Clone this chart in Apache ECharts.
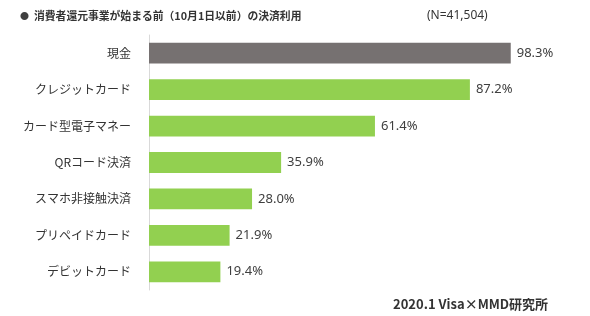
<!DOCTYPE html>
<html>
<head>
<meta charset="utf-8">
<script src="https://cdn.jsdelivr.net/npm/echarts@6/dist/echarts.min.js"></script>
<style>
  html, body { margin: 0; padding: 0; background: #fff; }
  #chart { width: 590px; height: 316px; }
</style>
</head>
<body>
<div id="chart"></div>
<script>
// 決済手段 (top to bottom as drawn)
const categories = ['現金', 'クレジットカード', 'カード型電子マネー', 'QRコード決済', 'スマホ非接触決済', 'プリペイドカード', 'デビットカード']
const values = [98.3, 87.2, 61.4, 35.9, 28.0, 21.9, 19.4]

const C = {
  gray: '#767171',
  green: '#92d050',
  text: '#333333',
  label: '#404040',
  axis: '#d9d9d9',
}
const JP = '"Noto Sans CJK JP", "Noto Sans", sans-serif'

const chart = echarts.init(document.getElementById('chart'), null, { renderer: 'canvas' })

chart.setOption({
  animation: false,
  textStyle: { fontFamily: JP },
  title: [
    { text: '●', left: 15, top: 6, textStyle: { fontSize: 9, color: '#404040', fontWeight: 'normal' } },
    { text: '消費者還元事業が始まる前（10月1日以前）の決済利用', left: 29, top: 6,
      textStyle: { fontSize: 10.8, color: C.text, fontWeight: 'bold', fontFamily: JP } },
    { text: '(N=41,504)', left: 422, top: 5,
      textStyle: { fontSize: 12, color: C.text, fontWeight: 'normal', fontFamily: '"Noto Sans", sans-serif' } },
    { text: '2020.1 Visa×MMD研究所', left: 388, top: 293,
      textStyle: { fontSize: 13, color: C.text, fontWeight: 'bold', fontFamily: JP } },
  ],
  grid: { left: 149, right: 73, top: 35, bottom: 26, containLabel: false },
  xAxis: {
    type: 'value',
    min: 0,
    max: 100,
    show: false,
  },
  yAxis: {
    type: 'category',
    inverse: true,
    data: categories,
    axisLine: { show: true, lineStyle: { color: C.axis, width: 1 } },
    axisTick: { show: false },
    axisLabel: { color: C.text, fontSize: 12, margin: 18, fontFamily: JP },
  },
  series: [
    {
      type: 'bar',
      barCategoryGap: '43%',
      data: values.map((v, i) => ({
        value: v,
        itemStyle: { color: i === 0 ? C.gray : C.green },
      })),
      label: {
        show: true,
        position: 'right',
        distance: 6,
        color: C.label,
        fontSize: 13,
        fontFamily: '"Noto Sans", sans-serif',
        formatter: (p) => p.value.toFixed(1) + '%',
      },
    },
  ],
})
</script>
</body>
</html>
